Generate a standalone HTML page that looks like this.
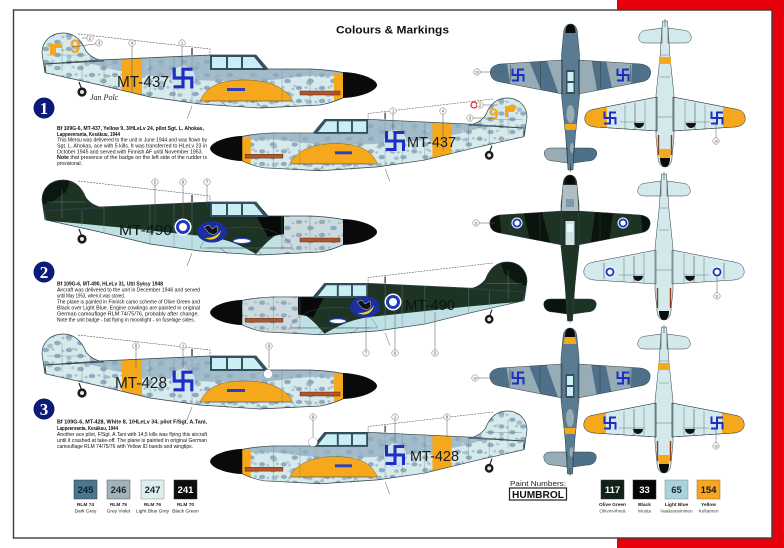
<!DOCTYPE html>
<html><head><meta charset="utf-8"><style>
html,body{margin:0;padding:0;background:#fff;}
svg{display:block;font-family:"Liberation Sans",Arial,sans-serif;}
</style></head><body>
<svg width="784" height="548" viewBox="0 0 784 548" xmlns="http://www.w3.org/2000/svg">
<defs>
<pattern id="mot" width="23" height="13" patternUnits="userSpaceOnUse">
 <ellipse cx="4" cy="3" rx="3.2" ry="2.2" fill="#8fabbd"/>
 <ellipse cx="15.5" cy="9" rx="3.4" ry="2.3" fill="#8fabbd"/>
 <ellipse cx="11" cy="2.5" rx="1.6" ry="1.2" fill="#a6bfcd"/>
 <ellipse cx="21" cy="4" rx="1.5" ry="1.2" fill="#a6bfcd"/>
</pattern>
<pattern id="mot2" width="37" height="19" patternUnits="userSpaceOnUse">
 <ellipse cx="8" cy="12" rx="3" ry="2.4" fill="#98b3c3" opacity=".8"/>
 <ellipse cx="27" cy="5" rx="2.6" ry="2" fill="#98b3c3" opacity=".8"/>
 <ellipse cx="31" cy="15" rx="1.8" ry="1.4" fill="#b2c8d3"/>
</pattern>
<path id="sFus" d="M3,31 L58,27 L168,22 L214,22 L226,36 L268,36 Q290,37 303,40 L303,64 Q290,70 278,72 L218,75 L158,71 L108,64 L58,52 L4,40 Z"/>
<path id="sFin" d="M3,40 L0,20 C0,8 9,0 21,0 C33,0 40,8 44,18 Q50,26 62,28 L3,31 Z"/>
<clipPath id="sclip">
 <path d="M3,31 L58,27 L168,22 L214,22 L226,36 L268,36 Q290,37 303,40 L303,64 Q290,70 278,72 L218,75 L158,71 L108,64 L58,52 L4,40 Z"/>
 <path d="M3,40 L0,20 C0,8 9,0 21,0 C33,0 40,8 44,18 Q50,26 62,28 L3,31 Z"/>
</clipPath>

<g id="sCommon">
 <use href="#sFus" fill="none" stroke="#2f3f46" stroke-width=".7"/>
 <use href="#sFin" fill="none" stroke="#2f3f46" stroke-width=".7"/>
 <path d="M40,30V46 M62,27V52 M108,25V64 M132,24V67 M150,23V70 M240,36V70 M268,36V70 M20,9V38 M5,22H44" fill="none" stroke="#6f8791" stroke-width=".4"/>
 <path d="M168,22 L214,22 L226,37 L168,37 Z" fill="#33505e"/>
 <rect x="170" y="24" width="14" height="11" fill="#c9eef3"/>
 <rect x="186" y="24" width="13" height="11" fill="#c9eef3"/>
 <path d="M201,24 L212,24 L221,35 L201,35 Z" fill="#c9eef3"/>
 <path d="M301,39 C322,40 335,47 335,52 C335,57 322,64 301,65 Z" fill="#0a0a0a"/>
 <rect x="258" y="58" width="40" height="4" fill="#b5532a" stroke="#3b1a0a" stroke-width=".4"/>
 <path d="M165,68 L250,68 M178,68 L186,74 M214,68 L220,75 M150,73 L145,86" fill="none" stroke="#4b5b62" stroke-width=".5"/>
 <path d="M37,49 L40,57" stroke="#222" stroke-width="1.2"/>
 <circle cx="40" cy="59" r="4.6" fill="#1a1a1a"/>
 <circle cx="40" cy="59" r="2" fill="#e6e6e6"/>
 <path d="M150,22V15" stroke="#222" stroke-width="1.2"/>
 <polyline points="36,1 168,16 168,22" fill="none" stroke="#333" stroke-width=".5" stroke-dasharray="2,1"/>
</g>

<g id="sGray">
 <g clip-path="url(#sclip)">
  <rect x="-5" y="-5" width="345" height="90" fill="#d6eaec"/>
  <path d="M48,-5 L340,-5 L340,44 C300,44 270,40 240,46 C200,50 150,48 110,43 C85,40 65,36 48,30 Z" fill="#a2bbca"/>
  <rect x="-5" y="-5" width="345" height="90" fill="url(#mot)"/>
  <rect x="-5" y="-5" width="345" height="90" fill="url(#mot2)"/>
  <rect x="80" y="-5" width="20" height="90" fill="#f5a81c"/>
  <rect x="292" y="40" width="10" height="40" fill="#f5a81c"/>
 </g>
 <path d="M158,68 C165,52 180,47 203,47 C228,47 243,55 250,66 L250,68 Z" fill="#f5a81c" stroke="#5a4a20" stroke-width=".4"/>
 <rect x="185" y="55" width="18" height="3" fill="#2b3fc0"/>
 <use href="#sCommon"/>
</g>

<g id="sGreen">
 <g clip-path="url(#sclip)">
  <rect x="-5" y="-5" width="345" height="90" fill="#bfe1e5"/>
  <rect x="238" y="-5" width="100" height="90" fill="#cddbdf"/>
  <rect x="238" y="-5" width="100" height="90" fill="url(#mot)"/>
  <path d="M-5,-5 L242,-5 L242,50 C232,56 226,60 214,74 C200,66 185,58 160,56 C120,52 70,46 -5,40 Z" fill="#1d3424"/>
  <path d="M-5,-5 L30,-5 L24,12 L10,22 L-5,26 Z" fill="#0c170f"/>
  <path d="M211,30 L242,30 L242,54 L226,57 Z" fill="#070a08"/>
 </g>
 <path d="M158,68 C165,52 180,47 203,47 C228,47 243,55 250,66 L250,68 Z" fill="none" stroke="#4b5b62" stroke-width=".4"/>
 <ellipse cx="200" cy="61" rx="9" ry="2.6" fill="#fff" stroke="#2240c0" stroke-width="1.2"/>
 <use href="#sCommon"/>
</g>

<g id="sw"><path d="M0,-10V10M-10,0H10M0,-10H9M10,0V10M0,10H-9M-10,0V-10" fill="none" stroke="#1b2fc4" stroke-width="3.6" stroke-linecap="square"/></g>
<g id="rd"><circle r="8.5" fill="#fff"/><circle r="7" fill="#1d3ac4"/><circle r="4" fill="#fff"/></g>

<path id="wL" d="M-8,36 L-70,40 C-78,41 -81,45 -80,50 C-79,55 -76,57 -70,58 L-8,70 Z"/>
<path id="wR" d="M8,36 L70,40 C78,41 81,45 80,50 C79,55 76,57 70,58 L8,70 Z"/>
<path id="tF" d="M0,0 C5,0 7,5 7,10 L9,30 L9,72 L5,110 L2.5,146 L-2.5,146 L-5,110 L-9,72 L-9,30 L-7,10 C-7,5 -5,0 0,0 Z"/>
<path id="tL" d="M-3,124 L-19,124 C-25,124 -27,127 -26,131 C-25,135 -22,137 -17,137 L-3,139 Z"/>
<path id="tR" d="M3,124 L19,124 C25,124 27,127 26,131 C25,135 22,137 17,137 L3,139 Z"/>
<path id="spn" d="M-5,9 C-5,3 -3,0 0,0 C3,0 5,3 5,9 Z"/>
<clipPath id="wclip">
 <path d="M-8,36 L-70,40 C-78,41 -81,45 -80,50 C-79,55 -76,57 -70,58 L-8,70 Z"/>
 <path d="M8,36 L70,40 C78,41 81,45 80,50 C79,55 76,57 70,58 L8,70 Z"/>
</clipPath>

<g id="tOut" fill="none" stroke="#2e3d44" stroke-width=".5">
 <use href="#wL"/><use href="#wR"/><use href="#tL"/><use href="#tR"/><use href="#tF"/>
 <path d="M-60,41V57 M60,41V57 M-30,38V64 M30,38V64 M0,140V148" />
</g>

<g id="tSpl">
 <use href="#wL" fill="#97acb5"/><use href="#wR" fill="#97acb5"/>
 <g clip-path="url(#wclip)" fill="#4e7189">
  <path d="M-85,30 L-65,30 L-58,75 L-85,75 Z"/>
  <path d="M-44,30 L-26,30 L-10,75 L-26,75 Z"/>
  <path d="M20,30 L34,30 L44,75 L28,75 Z"/>
  <path d="M62,30 L85,30 L85,75 L60,75 Z"/>
 </g>
 <use href="#tL" fill="#97acb5"/><use href="#tR" fill="#4e7189"/>
 <use href="#tF" fill="#5a7c92"/>
 <ellipse cx="0" cy="90" rx="4" ry="9" fill="#97acb5"/>
 <ellipse cx="1.5" cy="124" rx="2" ry="5" fill="#97acb5"/>
 <rect x="-6" y="100" width="12" height="6" fill="#f5a81c"/>
 <rect x="-4.5" y="46" width="9" height="24" fill="#34505e"/>
 <rect x="-3" y="48" width="6" height="9" fill="#cfeff2"/>
 <rect x="-3" y="59" width="6" height="9" fill="#cfeff2"/>
 <use href="#spn" fill="#0a0a0a"/>
 <use href="#tOut"/>
</g>

<g id="tGrn">
 <use href="#wL" fill="#1d3424"/><use href="#wR" fill="#1d3424"/>
 <g clip-path="url(#wclip)" fill="#0a140c">
  <path d="M-85,30 L-72,30 L-66,75 L-85,75 Z"/>
  <path d="M-48,30 L-30,30 L-18,75 L-38,75 Z"/>
  <path d="M26,30 L44,30 L38,75 L20,75 Z"/>
  <path d="M70,30 L85,30 L85,75 L74,75 Z"/>
 </g>
 <use href="#tL" fill="#0a140c"/><use href="#tR" fill="#1d3424"/>
 <use href="#tF" fill="#1d3424"/>
 <path d="M-7,10 L7,10 L8.5,36 L-8.5,36 Z" fill="#aebfc4"/>
 <rect x="-4" y="24" width="8" height="8" fill="#7f9aa5"/>
 <rect x="-4.5" y="46" width="9" height="24" fill="#cfe3e6"/>
 <rect x="-3" y="49" width="6" height="8" fill="#e8f7f8"/>
 <use href="#spn" fill="#0a0a0a"/>
 <use href="#tOut"/>
</g>

<g id="bLt">
 <use href="#wL" fill="#d4e9ec"/><use href="#wR" fill="#d4e9ec"/>
 <use href="#tL" fill="#d4e9ec"/><use href="#tR" fill="#d4e9ec"/>
 <use href="#tF" fill="#d4e9ec"/>
 <path d="M-40,38 L-40,62 M40,38 L40,62 M-20,37 V66 M20,37 V66 M-8,50 H8 M-5,90 H5 M-4,112 H4 M-45,45H-20 M20,45H45" fill="none" stroke="#5b7a80" stroke-width=".5"/>
 <path d="M-31,44 A5,5 0 0 1 -21,44 Z" fill="#111"/>
 <path d="M21,44 A5,5 0 0 1 31,44 Z" fill="#111"/>
 <path d="M-6.5,12 V32 M6.5,12 V32" stroke="#8b3a1a" stroke-width="1.4"/>
 <use href="#spn" fill="#0a0a0a"/>
 <use href="#tOut"/>
</g>

<g id="bY">
 <g clip-path="url(#wclip)" fill="#f5a81c"><rect x="-85" y="30" width="27" height="45"/><rect x="58" y="30" width="27" height="45"/></g>
 <rect x="-6" y="103" width="12" height="7" fill="#f5a81c"/>
 <path d="M-5,9 L5,9 L6.5,18 L-6.5,18 Z" fill="#f5a81c"/>
 <g fill="none" stroke="#2e3d44" stroke-width=".5"><use href="#wL"/><use href="#wR"/></g>
</g>

<g id="bat">
 <ellipse rx="15" ry="10.5" fill="#1c2f9e"/>
 <path d="M-7,6 C0,10 8,6 9,-2 C6,4 0,6 -7,6 Z" fill="#f2d21a"/>
 <path d="M-8,-5 L-3,-7 L0,-3 L5,-6 L6,0 L2,3 L-3,1 Z" fill="#111" stroke="#ddd" stroke-width=".5"/>
</g>
</defs>

<!-- red page corner and frame -->
<rect x="617" y="0" width="167" height="548" fill="#e8000c"/>
<rect x="13.5" y="10" width="758.5" height="528" fill="#fff" stroke="#3c3c3c" stroke-width="1.4"/>

<text x="336" y="33.5" font-size="11" font-weight="bold" fill="#111" textLength="113" lengthAdjust="spacingAndGlyphs">Colours &amp; Markings</text>

<!-- side views -->
<use href="#sGray" transform="translate(42,33)"/>
<use href="#sGray" transform="translate(527,98) scale(-0.946,0.97)"/>
<use href="#sGreen" transform="translate(42,180)"/>
<use href="#sGreen" transform="translate(527,262) scale(-0.946,0.97)"/>
<use href="#sGray" transform="translate(42,334)"/>
<use href="#sGray" transform="translate(527,411) scale(-0.946,0.97)"/>

<!-- markings 1a -->
<circle cx="183" cy="78" r="12" fill="#cfe3ea"/>
<use href="#sw" transform="translate(183,78) scale(.88)"/>
<text x="117" y="87" font-size="15.5" fill="#1a1a1a" textLength="52" lengthAdjust="spacingAndGlyphs">MT-437</text>
<text x="70" y="53" font-size="19" font-weight="bold" fill="#f5a81c">9</text>
<path d="M50,44 L62,44 L62,48 L56,48 L56,55 L50,55 Z" fill="#f5a81c"/>
<text x="90" y="100" font-size="8" font-style="italic" font-family="Liberation Serif,serif" fill="#222">Jan Polc</text>
<!-- markings 1b -->
<circle cx="395" cy="141" r="11" fill="#cfe3ea"/>
<use href="#sw" transform="translate(395,141) scale(.85)"/>
<text x="407" y="147" font-size="14.5" fill="#1a1a1a" textLength="49" lengthAdjust="spacingAndGlyphs">MT-437</text>
<text x="489" y="120" font-size="17" font-weight="bold" fill="#f5a81c">9</text>
<path d="M505,106 L517,106 L514,112 L508,112 L508,117 L505,117 Z" fill="#f5a81c"/>
<circle cx="474" cy="105" r="3" fill="none" stroke="#e22" stroke-width="1.2"/>
<!-- markings 2a -->
<text x="119" y="235" font-size="15" fill="#0b160d" textLength="53" lengthAdjust="spacingAndGlyphs">MT-490</text>
<use href="#rd" transform="translate(183,227)"/>
<use href="#bat" transform="translate(212,232)"/>
<!-- markings 2b -->
<text x="405" y="310" font-size="14.5" fill="#0b160d" textLength="50" lengthAdjust="spacingAndGlyphs">MT-490</text>
<use href="#rd" transform="translate(393,302)"/>
<use href="#bat" transform="translate(365,307)"/>
<!-- markings 3a -->
<circle cx="183" cy="381" r="12" fill="#cfe3ea"/>
<use href="#sw" transform="translate(183,381) scale(.88)"/>
<text x="115" y="388" font-size="15.5" fill="#1a1a1a" textLength="52" lengthAdjust="spacingAndGlyphs">MT-428</text>
<circle cx="268" cy="374" r="4.5" fill="#fff" stroke="#889" stroke-width=".4"/>
<!-- markings 3b -->
<circle cx="395" cy="455" r="11" fill="#cfe3ea"/>
<use href="#sw" transform="translate(395,455) scale(.85)"/>
<text x="410" y="461" font-size="14.5" fill="#1a1a1a" textLength="49" lengthAdjust="spacingAndGlyphs">MT-428</text>
<circle cx="313" cy="442" r="4.5" fill="#fff" stroke="#889" stroke-width=".4"/>

<!-- top / bottom views -->
<use href="#tSpl" transform="translate(570.5,24)"/>
<use href="#bLt" transform="translate(665,167) scale(1,-1)"/>
<use href="#bY" transform="translate(665,167) scale(1,-1)"/>
<use href="#tGrn" transform="translate(570,175)"/>
<use href="#bLt" transform="translate(664,320) scale(1,-1)"/>
<use href="#tSpl" transform="translate(570,328)"/>
<path d="M-5,9 L5,9 L6.5,16 L-6.5,16 Z" transform="translate(570,328)" fill="#f5a81c"/>
<use href="#bLt" transform="translate(664,473) scale(1,-1)"/>
<use href="#bY" transform="translate(664,473) scale(1,-1)"/>

<use href="#sw" transform="translate(518,75) scale(.55)"/>
<use href="#sw" transform="translate(623,75) scale(.55)"/>
<use href="#sw" transform="translate(610,118) scale(.55)"/>
<use href="#sw" transform="translate(717,118) scale(.55)"/>
<use href="#rd" transform="translate(517,223) scale(.65)"/>
<use href="#rd" transform="translate(623,223) scale(.65)"/>
<use href="#rd" transform="translate(610,272) scale(.65)"/>
<use href="#rd" transform="translate(717,272) scale(.65)"/>
<use href="#sw" transform="translate(518,378) scale(.55)"/>
<use href="#sw" transform="translate(623,378) scale(.55)"/>
<use href="#sw" transform="translate(610,423) scale(.55)"/>
<use href="#sw" transform="translate(717,423) scale(.55)"/>

<!-- callouts -->
<g stroke="#555" stroke-width=".5" fill="none">
 <path d="M132,46V92 M182,46V68 M93,38H82 M102,43L72,47"/>
 <path d="M393,114V133 M443,114V150 M483,105H498 M473,118H495"/>
 <path d="M155,185V228 M183,185V219 M207,185V207"/>
 <path d="M366,350V318 M395,350V311 M435,350V312"/>
 <path d="M136,349V368 M183,349V368 M269,349V368"/>
 <path d="M313,420V437 M395,420V443 M447,420V437"/>
 <path d="M480,72H505 M716,138V122 M479,223H495 M717,293V276 M478,378H500 M716,443V428"/>
</g>
<g fill="#fff" stroke="#666" stroke-width=".5">
 <circle cx="90" cy="38" r="3.2"/><circle cx="99" cy="43" r="3.2"/><circle cx="132" cy="43" r="3.2"/><circle cx="182" cy="43" r="3.2"/>
 <circle cx="393" cy="111" r="3.2"/><circle cx="443" cy="111" r="3.2"/><circle cx="480" cy="105" r="3.2"/><circle cx="470" cy="118" r="3.2"/>
 <circle cx="155" cy="182" r="3.2"/><circle cx="183" cy="182" r="3.2"/><circle cx="207" cy="182" r="3.2"/>
 <circle cx="366" cy="353" r="3.2"/><circle cx="395" cy="353" r="3.2"/><circle cx="435" cy="353" r="3.2"/>
 <circle cx="136" cy="346" r="3.2"/><circle cx="183" cy="346" r="3.2"/><circle cx="269" cy="346" r="3.2"/>
 <circle cx="313" cy="417" r="3.2"/><circle cx="395" cy="417" r="3.2"/><circle cx="447" cy="417" r="3.2"/>
 <circle cx="477" cy="72" r="3.2"/><circle cx="716" cy="141" r="3.2"/><circle cx="476" cy="223" r="3.2"/><circle cx="717" cy="296" r="3.2"/><circle cx="475" cy="378" r="3.2"/><circle cx="716" cy="446" r="3.2"/>
</g>
<g font-size="4.2" fill="#333" text-anchor="middle">
 <text x="90" y="39.5">2</text><text x="99" y="44.5">3</text><text x="132" y="44.5">4</text><text x="182" y="44.5">1</text>
 <text x="393" y="112.5">1</text><text x="443" y="112.5">4</text><text x="480" y="106.5">2</text><text x="470" y="119.5">3</text>
 <text x="155" y="183.5">5</text><text x="183" y="183.5">6</text><text x="207" y="183.5">7</text>
 <text x="366" y="354.5">7</text><text x="395" y="354.5">6</text><text x="435" y="354.5">5</text>
 <text x="136" y="347.5">8</text><text x="183" y="347.5">1</text><text x="269" y="347.5">9</text>
 <text x="313" y="418.5">9</text><text x="395" y="418.5">1</text><text x="447" y="418.5">8</text>
 <text x="477" y="73.5" font-size="3.4">10</text><text x="716" y="142.5" font-size="3.4">10</text><text x="476" y="224.5" font-size="3.4">11</text><text x="717" y="297.5" font-size="3.4">11</text><text x="475" y="379.5" font-size="3.4">10</text><text x="716" y="447.5" font-size="3.4">10</text>
</g>

<!-- number badges -->
<circle cx="44" cy="108" r="10.5" fill="#0c1a78"/>
<text x="44" y="114" font-size="17" font-weight="bold" font-family="Liberation Serif,serif" fill="#fff" text-anchor="middle">1</text>
<circle cx="44" cy="272" r="10.5" fill="#0c1a78"/>
<text x="44" y="278" font-size="17" font-weight="bold" font-family="Liberation Serif,serif" fill="#fff" text-anchor="middle">2</text>
<circle cx="44" cy="409" r="10.5" fill="#0c1a78"/>
<text x="44" y="415" font-size="17" font-weight="bold" font-family="Liberation Serif,serif" fill="#fff" text-anchor="middle">3</text>

<!-- description blocks -->
<g font-size="5" fill="#111">
 <text x="57" y="130" font-weight="bold" textLength="147" lengthAdjust="spacingAndGlyphs">Bf 109G-6, MT-437, Yellow 9, 3/HLeLv 24, pilot Sgt. L. Ahokas,</text>
 <text x="57" y="135.8" font-weight="bold" textLength="63" lengthAdjust="spacingAndGlyphs">Lappeenranta, Kesäkuu, 1944</text>
 <text x="57" y="141.7" textLength="150" lengthAdjust="spacingAndGlyphs">This Mersu was delivered to the unit in June 1944 and was flown by</text>
 <text x="57" y="147.5" textLength="150" lengthAdjust="spacingAndGlyphs">Sgt. L. Ahokas, ace with 5 kills. It was transferred to HLeLv 23 in</text>
 <text x="57" y="153.4" textLength="146" lengthAdjust="spacingAndGlyphs">October 1945 and served with Finnish AF until November 1953.</text>
 <text x="57" y="159.2" textLength="150" lengthAdjust="spacingAndGlyphs"><tspan font-weight="bold">Note</tspan> that presence of the badge on the left side of the rudder is</text>
 <text x="57" y="165.1" textLength="25" lengthAdjust="spacingAndGlyphs">provisional.</text>

 <text x="57" y="285.3" font-weight="bold" textLength="106" lengthAdjust="spacingAndGlyphs">Bf 109G-6, MT-490, HLeLv 31, Utti Syksy 1948</text>
 <text x="57" y="291.3" textLength="143" lengthAdjust="spacingAndGlyphs">Aircraft was delivered to the unit in December 1946 and served</text>
 <text x="57" y="297.3" textLength="68" lengthAdjust="spacingAndGlyphs">until May 1953, when it was stored.</text>
 <text x="57" y="303.3" textLength="143" lengthAdjust="spacingAndGlyphs">The plane is painted in Finnish camo scheme of Olive Green and</text>
 <text x="57" y="309.3" textLength="143" lengthAdjust="spacingAndGlyphs">Black over Light Blue. Engine cowlings are painted in original</text>
 <text x="57" y="315.3" textLength="142" lengthAdjust="spacingAndGlyphs">German camouflage RLM 74/75/76, probably after change.</text>
 <text x="57" y="321.3" textLength="138" lengthAdjust="spacingAndGlyphs">Note the unit badge - bat flying in moonlight - on fuselage sides.</text>

 <text x="57" y="423.7" font-weight="bold" textLength="150" lengthAdjust="spacingAndGlyphs">Bf 109G-6, MT-428, White 8, 1/HLeLv 34, pilot F/Sgt. A.Tani,</text>
 <text x="57" y="429.8" font-weight="bold" textLength="61" lengthAdjust="spacingAndGlyphs">Lappeenranta, Kesäkuu, 1944</text>
 <text x="57" y="435.9" textLength="150" lengthAdjust="spacingAndGlyphs">Another ace pilot, F/Sgt. A.Tani with 14,5 kills was flying this aircraft</text>
 <text x="57" y="442" textLength="150" lengthAdjust="spacingAndGlyphs">until it crashed at take-off. The plane is painted in original German</text>
 <text x="57" y="448.1" textLength="136" lengthAdjust="spacingAndGlyphs">camouflage RLM 74/75/76 with Yellow ID bands and wingtips.</text>
</g>

<!-- RLM chips -->
<rect x="74" y="480" width="23" height="19" fill="#4b7690" stroke="#333" stroke-width=".5"/>
<rect x="107" y="480" width="23" height="19" fill="#9fb3b8" stroke="#555" stroke-width=".5"/>
<rect x="141" y="480" width="23" height="19" fill="#dcefef" stroke="#888" stroke-width=".5"/>
<rect x="174" y="480" width="23" height="19" fill="#0d0d0d" stroke="#333" stroke-width=".5"/>
<g font-size="9.5" font-weight="bold" text-anchor="middle">
 <text x="85.5" y="493" fill="#10202a">245</text>
 <text x="118.5" y="493" fill="#1a2a30">246</text>
 <text x="152.5" y="493" fill="#1a2a30">247</text>
 <text x="185.5" y="493" fill="#fff">241</text>
</g>
<g font-size="4.8" fill="#222" text-anchor="middle">
 <text x="85.5" y="506" font-weight="bold">RLM 74</text>
 <text x="85.5" y="512.5">Dark Grey</text>
 <text x="118.5" y="506" font-weight="bold">RLM 75</text>
 <text x="118.5" y="512.5">Grey Violet</text>
 <text x="152.5" y="506" font-weight="bold">RLM 76</text>
 <text x="152.5" y="512.5">Light Blue Grey</text>
 <text x="185.5" y="506" font-weight="bold">RLM 70</text>
 <text x="185.5" y="512.5">Black Green</text>
</g>

<!-- Humbrol chips -->
<text x="510" y="486" font-size="7.5" fill="#222" textLength="56" lengthAdjust="spacingAndGlyphs">Paint Numbers:</text>
<rect x="509.5" y="488" width="57" height="12" fill="#fff" stroke="#222" stroke-width="1.2"/>
<text x="538" y="498" font-size="10" font-weight="bold" fill="#111" text-anchor="middle" textLength="52" lengthAdjust="spacingAndGlyphs">HUMBROL</text>
<rect x="601" y="480" width="23" height="19" fill="#0f2317" stroke="#333" stroke-width=".5"/>
<rect x="633" y="480" width="23" height="19" fill="#050505" stroke="#333" stroke-width=".5"/>
<rect x="665" y="480" width="23" height="19" fill="#a9d3dc" stroke="#888" stroke-width=".5"/>
<rect x="697" y="480" width="23" height="19" fill="#f6a623" stroke="#a07020" stroke-width=".5"/>
<g font-size="9.5" font-weight="bold" text-anchor="middle">
 <text x="612.5" y="493" fill="#fff">117</text>
 <text x="644.5" y="493" fill="#fff">33</text>
 <text x="676.5" y="493" fill="#1a2a30">65</text>
 <text x="708.5" y="493" fill="#1a1a1a">154</text>
</g>
<g font-size="4.8" fill="#222" text-anchor="middle">
 <text x="612.5" y="506" font-weight="bold">Olive Green</text>
 <text x="612.5" y="512.5" fill="#444">Oliivinvihreä</text>
 <text x="644.5" y="506" font-weight="bold">Black</text>
 <text x="644.5" y="512.5" fill="#444">Musta</text>
 <text x="676.5" y="506" font-weight="bold">Light Blue</text>
 <text x="676.5" y="512.5" fill="#444">Vaaleansininen</text>
 <text x="708.5" y="506" font-weight="bold">Yellow</text>
 <text x="708.5" y="512.5" fill="#444">Keltainen</text>
</g>
</svg>
</body></html>
